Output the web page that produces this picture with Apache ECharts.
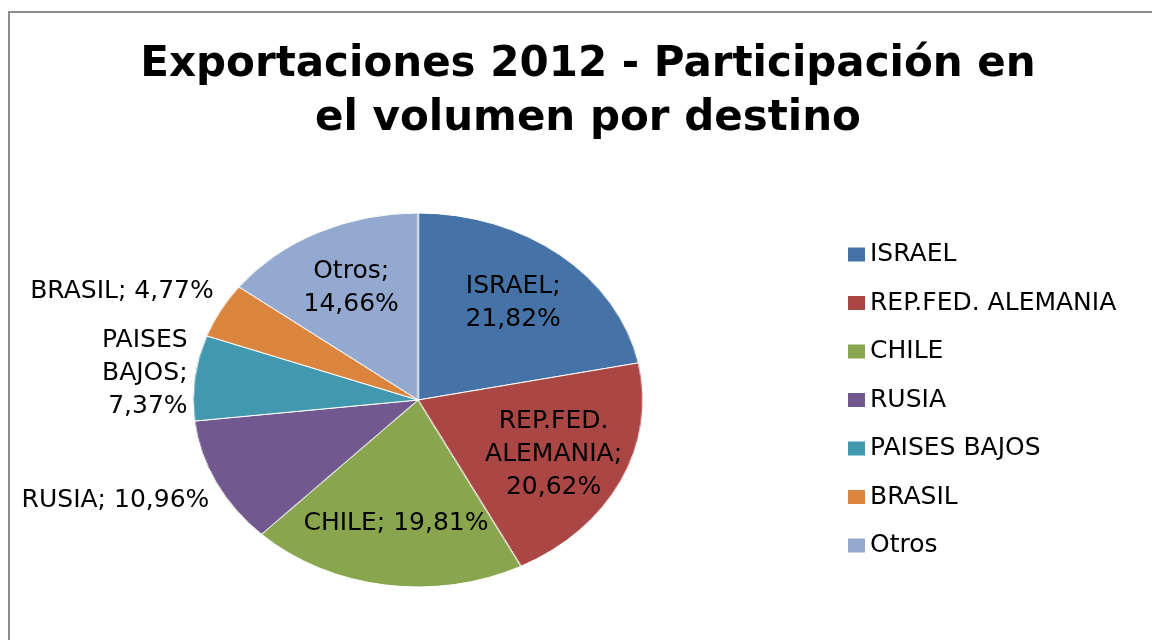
<!DOCTYPE html>
<html>
<head>
<meta charset="utf-8">
<script src="https://cdn.jsdelivr.net/npm/echarts@6/dist/echarts.min.js"></script>
<style>
html, body { margin: 0; padding: 0; overflow: hidden; background: #fff; }
/* el pastel de Excel es un circulo estirado en horizontal */
#tarta { position: absolute; left: 0; top: 0; width: 1152px; height: 640px; transform: scaleX(1.2032); transform-origin: 418px 400px; }
#grafico { position: absolute; left: 0; top: 0; width: 1176px; height: 640px; }
</style>
</head>
<body>
<div id="tarta"></div>
<div id="grafico"></div>
<script>
const destinos = ['ISRAEL', 'REP.FED. ALEMANIA', 'CHILE', 'RUSIA', 'PAISES BAJOS', 'BRASIL', 'Otros'];
const participacion = [21.82, 20.62, 19.81, 10.96, 7.37, 4.77, 14.66];
const colores = ['#4572A7', '#AA4643', '#89A54E', '#71588F', '#4198AF', '#DB843D', '#93A9CF'];
const etiquetaEnUnaLinea = ['CHILE', 'RUSIA', 'BRASIL'];
const titulo = 'Exportaciones 2012 - Participación en\nel volumen por destino';

const fuente = 'DejaVu Sans';
const centroX = 418;
const escala = 1.2032; // igual que el scaleX del css

function etiqueta(p) {
    const v = p.value.toFixed(2).replace('.', ',') + '%';
    if (etiquetaEnUnaLinea.indexOf(p.name) >= 0) return p.name + '; ' + v;
    return p.name.replace(' ', '\n') + ';\n' + v;
}

// capa de abajo: solo los sectores
const tarta = echarts.init(document.getElementById('tarta'));
tarta.setOption({
    animation: false,
    series: [{
        type: 'pie',
        silent: true,
        center: [centroX, 400],
        radius: 187,
        startAngle: 90,
        label: { show: false },
        labelLine: { show: false },
        itemStyle: { borderColor: '#fff', borderWidth: 1 },
        data: destinos.map((d, i) => ({ name: d, value: participacion[i], itemStyle: { color: colores[i] } }))
    }]
});

// capa de arriba: titulo, leyenda y etiquetas
const grafico = echarts.init(document.getElementById('grafico'));
grafico.setOption({
    animation: false,
    title: {
        text: titulo,
        left: 'center',
        top: 33,
        textStyle: { fontFamily: fuente, fontWeight: 'bold', fontSize: 42, lineHeight: 54, color: '#000' }
    },
    legend: {
        orient: 'vertical',
        left: 843,
        top: 237,
        icon: 'rect',
        itemWidth: 17,
        itemHeight: 14,
        itemGap: 23.5,
        textStyle: { fontFamily: fuente, fontSize: 25, color: '#000' },
        data: destinos.map((d, i) => ({ name: d, itemStyle: { color: colores[i] } }))
    },
    graphic: [{
        type: 'rect',
        silent: true,
        shape: { x: 9, y: 12, width: 1400, height: 900 },
        style: { fill: 'none', stroke: '#8c8c8c', lineWidth: 2 }
    }],
    series: [{
        type: 'pie',
        silent: true,
        center: [centroX, 400],
        radius: [57, 187],
        startAngle: 90,
        avoidLabelOverlap: false,
        labelLine: { show: false, length: 40, length2: 0 },
        label: {
            formatter: etiqueta,
            fontFamily: fuente,
            fontSize: 25,
            lineHeight: 33,
            color: '#000'
        },
        // las etiquetas de dentro se estiran igual que el pastel
        labelLayout: function (p) {
            if (participacion[p.dataIndex] < 12) return {};
            const medio = p.labelRect.x + p.labelRect.width / 2;
            return { x: centroX + (medio - centroX) * escala };
        },
        data: destinos.map((d, i) => ({
            name: d,
            value: participacion[i],
            itemStyle: { color: 'rgba(0,0,0,0)' },
            label: { position: participacion[i] >= 12 ? 'inside' : 'outside' }
        }))
    }]
});
</script>
</body>
</html>
